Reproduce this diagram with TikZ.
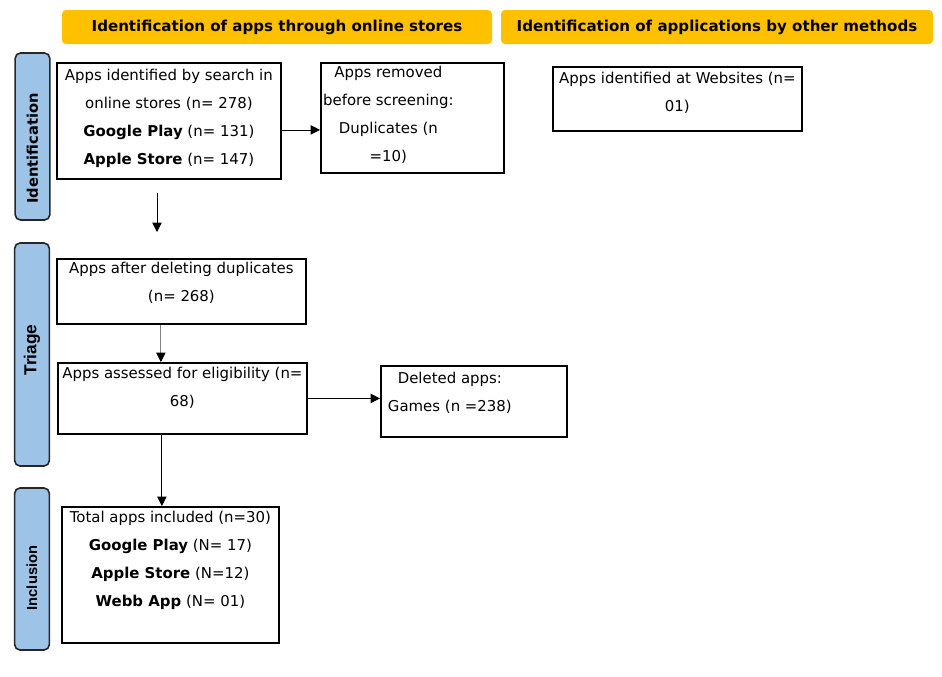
\documentclass[tikz,border=0pt]{standalone}
\usepackage{fontspec}
\setmainfont{DejaVu Sans}
\newfontfamily\arialfont{Liberation Sans}
\usetikzlibrary{arrows.meta}
\definecolor{headorange}{HTML}{FFC000}
\definecolor{phaseblue}{HTML}{9DC3E6}
\begin{document}
\begin{tikzpicture}[
  x=0.75pt, y=-0.75pt,
  header/.style={rectangle, rounded corners=3pt, fill=headorange, minimum width=#1, minimum height=25.5pt, inner sep=0pt, font=\fontsize{11.3}{13}\selectfont\bfseries},
  phase/.style={rectangle, rounded corners=4pt, draw=black!85, line width=1.2pt, fill=phaseblue, rotate=90, minimum width=#1, minimum height=26pt, inner sep=0pt, font=\fontsize{11}{13}\selectfont\bfseries},
  box/.style={rectangle, draw, line width=1.35pt, anchor=north west, inner sep=0pt, align=center, font=\fontsize{11.2}{21}\selectfont},
  arrow/.style={draw, line width=0.6pt, -{Triangle[length=7pt,width=7pt,black]}}
]
  \useasboundingbox (0,0) rectangle (942,676);
  % column headers
  \node[header=322.5pt] (storeshead) at (277,27) {Identification of apps through online stores};
  \node[header=324pt] (otherhead) at (717,27) {Identification of applications by other methods};
  % phases
  \node[phase=125.25pt] (identphase) at (32.5,136.5) {Identification\kern18pt};
  \node[phase=167.25pt] (triagephase) at (32,354.5) {\arialfont\fontsize{13}{15}\selectfont\kern6.75pt Triage};
  \node[phase=121.5pt] (inclphase) at (32,569) {\arialfont Inclusion\kern13.5pt};
  % boxes
  \node[box, minimum width=168pt, minimum height=87pt, text depth=6.64pt] (search) at (56,62)
    {Apps identified by search in\\online stores (n= 278)\\\textbf{Google Play} (n= 131)\\\textbf{Apple Store} (n= 147)};
  \node[box, minimum width=137.25pt, minimum height=82.5pt, text depth=6.64pt] (removed) at (320,62)
    {Apps removed\kern36pt\\before screening:\kern36pt\\Duplicates (n\kern36pt\\=10)\kern36pt};
  \node[box, minimum width=186.75pt, minimum height=48pt, text depth=11.14pt] (websites) at (552,66)
    {Apps identified at Websites (n=\\01)};
  \node[box, minimum width=186.75pt, minimum height=48.75pt, text depth=13.79pt] (afterdup) at (56,258)
    {Apps after deleting duplicates\\(n= 268)};
  \node[box, minimum width=186.75pt, minimum height=53.25pt, text depth=16.89pt] (assessed) at (57,362)
    {Apps assessed for eligibility (n=\\68)};
  \node[box, minimum width=139.5pt, minimum height=53.25pt, text depth=13.89pt] (deleted) at (380,365)
    {Deleted apps:\kern36pt\\Games (n =238)\kern36pt};
  \node[box, minimum width=162.75pt, minimum height=102pt, text depth=24.64pt] (included) at (61,506)
    {Total apps included (n=30)\\\textbf{Google Play} (N= 17)\\\textbf{Apple Store} (N=12)\\\textbf{Webb App} (N= 01)};
  % arrows
  \coordinate (identout) at (157,193);
  \coordinate (triagein) at (157,232);
  \draw[arrow] ([yshift=-6.75pt]search.east) -- ([yshift=-6.75pt]search.east -| removed.west);
  \draw[arrow] (identout) -- (triagein);
  \draw[arrow, draw=black!50] ([xshift=-15.4pt]afterdup.south) -- ([xshift=-15.4pt]afterdup.south |- assessed.north);
  \draw[arrow] (assessed.east) -- (assessed.east -| deleted.west);
  \draw[arrow] ([xshift=-15.4pt]assessed.south) -- ([xshift=-15.4pt]assessed.south |- included.north);
\end{tikzpicture}
\end{document}
